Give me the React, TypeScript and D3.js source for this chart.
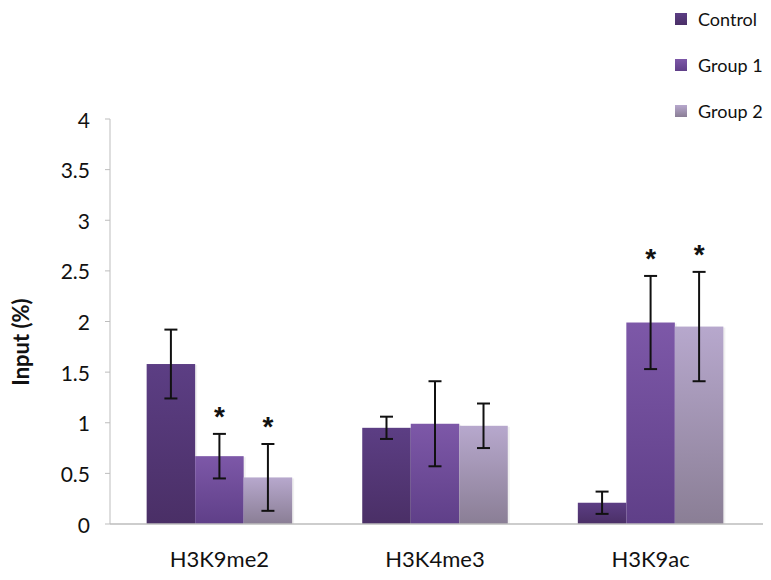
import React from "react";
import * as d3 from "d3";

const categories = ["H3K9me2", "H3K4me3", "H3K9ac"];
const seriesNames = ["Control", "Group 1", "Group 2"];
const controlValues = [1.58, 0.95, 0.21];
const group1Values = [0.67, 0.99, 1.99];
const group2Values = [0.46, 0.97, 1.95];
const controlErr = [0.34, 0.11, 0.11];
const group1Err = [0.22, 0.42, 0.46];
const group2Err = [0.33, 0.22, 0.54];
const group1Sig = [true, false, true];
const group2Sig = [true, false, true];
const yTicks = [0, 0.5, 1, 1.5, 2, 2.5, 3, 3.5, 4];

const gradients = [
  ["#5c3e84", "#4a2f66"],
  ["#7d58a8", "#5f3f88"],
  ["#b7a8cd", "#8a7e95"],
];

const W = 771;
const H = 580;
const m = { left: 110, right: 11, top: 119, bottom: 56 };

export default function App() {
  const x0 = d3
    .scaleBand<string>()
    .domain(categories)
    .range([m.left, W - m.right])
    .paddingInner(0.325)
    .paddingOuter(0.17);
  const x1 = d3.scaleBand<string>().domain(seriesNames).range([0, x0.bandwidth()]);
  const y = d3.scaleLinear().domain([0, 4]).range([H - m.bottom, m.top]);

  const values = [controlValues, group1Values, group2Values];
  const errs = [controlErr, group1Err, group2Err];
  const sigs = [null, group1Sig, group2Sig];
  const font = "Lato, 'Open Sans', sans-serif";

  return (
    <svg width={W} height={H} style={{ position: "absolute", left: 0, top: 0, background: "#fff" }}>
      <defs>
        {gradients.map((g, i) => (
          <linearGradient key={i} id={`g${i}`} x1="0" y1="0" x2="0" y2="1">
            <stop offset="0" stopColor={g[0]} />
            <stop offset="1" stopColor={g[1]} />
          </linearGradient>
        ))}
      </defs>
      {/* y axis */}
      <line x1={m.left} x2={m.left} y1={y(4)} y2={y(0)} stroke="#bdbdbd" strokeWidth={1} />
      {yTicks.map((t) => (
        <g key={t}>
          <line x1={m.left - 5} x2={m.left} y1={y(t)} y2={y(t)} stroke="#bdbdbd" />
          <text
            x={m.left - 20}
            y={y(t)}
            textAnchor="end"
            dominantBaseline="central"
            fontFamily={font}
            fontSize={21}
            fill="#111"
          >
            {String(t)}
          </text>
        </g>
      ))}
      <text
        transform={`translate(20,${342}) rotate(-90)`}
        textAnchor="middle"
        dominantBaseline="central"
        fontFamily={font}
        fontWeight="bold"
        fontSize={22}
        fill="#111"
      >
        Input (%)
      </text>
      {/* bars */}
      {categories.map((c, ci) => (
        <g key={c}>
          {seriesNames.map((s, si) => {
            const v = values[si][ci];
            const e = errs[si][ci];
            const bx = (x0(c) as number) + (x1(s) as number);
            const bw = x1.bandwidth();
            const cx = bx + bw / 2;
            const sig = sigs[si] ? (sigs[si] as boolean[])[ci] : false;
            return (
              <g key={s}>
                <rect x={bx + 2} y={y(v) + 1} width={bw} height={y(0) - y(v) - 1} fill="#000" opacity={0.06} />
                <rect x={bx} y={y(v)} width={bw} height={y(0) - y(v)} fill={`url(#g${si})`} />
                <line x1={cx} x2={cx} y1={y(v + e)} y2={y(v - e)} stroke="#111" strokeWidth={2} />
                <line x1={cx - 6.5} x2={cx + 6.5} y1={y(v + e)} y2={y(v + e)} stroke="#111" strokeWidth={2} />
                <line x1={cx - 6.5} x2={cx + 6.5} y1={y(v - e)} y2={y(v - e)} stroke="#111" strokeWidth={2} />
                {sig && (
                  <text
                    x={cx}
                    y={y(v + e) - 8}
                    textAnchor="middle"
                    fontFamily="'Liberation Sans', Arial, sans-serif"
                    fontWeight="bold"
                    fontSize={28}
                    fill="#111"
                  >
                    *
                  </text>
                )}
              </g>
            );
          })}
        </g>
      ))}
      {/* x axis */}
      <line x1={m.left} x2={W - m.right + 3} y1={y(0)} y2={y(0)} stroke="#bdbdbd" strokeWidth={1.5} />
      {categories.map((c) => (
        <text
          key={c}
          x={(x0(c) as number) + x0.bandwidth() / 2}
          y={567}
          textAnchor="middle"
          fontFamily={font}
          fontSize={22}
          fill="#111"
        >
          {c}
        </text>
      ))}
      {/* legend */}
      {seriesNames.map((s, i) => (
        <g key={s}>
          <rect x={675} y={13 + i * 46} width={12} height={12} fill={`url(#g${i})`} />
          <text x={698} y={19 + i * 46} dominantBaseline="central" fontFamily={font} fontSize={18} fill="#111">
            {s}
          </text>
        </g>
      ))}
    </svg>
  );
}
